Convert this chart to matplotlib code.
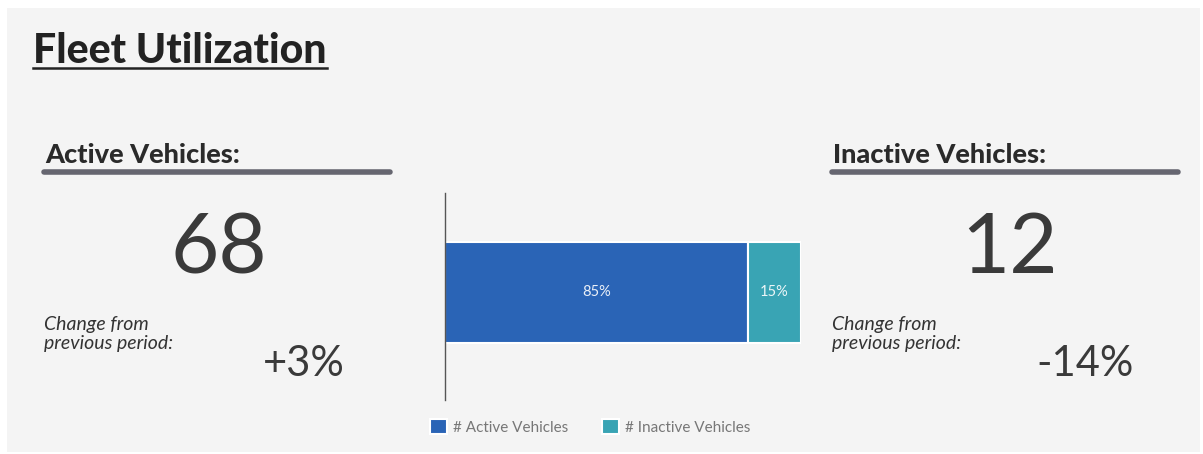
import matplotlib
matplotlib.use("Agg")
import matplotlib.pyplot as plt
from matplotlib.patches import Rectangle
from matplotlib.lines import Line2D

W, H = 1203, 454

# ---- data ----
categories = ["# Active Vehicles", "# Inactive Vehicles"]
counts = [68, 12]
pct_labels = ["85%", "15%"]
changes = ["+3%", "-14%"]
colors = ["#2a64b6", "#39a4b4"]

plt.rcParams['font.family'] = ['Lato', 'DejaVu Sans']

fig = plt.figure(figsize=(W / 100, H / 100), dpi=100, facecolor="white")

def fx(x):
    return x / W

def fy(y):
    return 1 - y / H

# background panel
fig.patches.append(Rectangle((fx(7), fy(452)), fx(1200) - fx(7), fy(8) - fy(452),
                             transform=fig.transFigure, facecolor="#f4f4f4",
                             edgecolor="none", zorder=-5))

# title
fig.text(fx(33), fy(63), "Fleet Utilization", fontsize=29.5, fontweight="black",
         color="#222222", ha="left", va="baseline")
fig.add_artist(Line2D([fx(33), fx(327)], [fy(68), fy(68)], transform=fig.transFigure,
                      color="#222222", linewidth=1.8))

# headers
for x0, x1, text in [(45, 390, "Active Vehicles:"), (833, 1178, "Inactive Vehicles:")]:
    fig.text(fx(x0), fy(163), text, fontsize=19.5, fontweight="black",
             color="#2a2a2a", ha="left", va="baseline")
    fig.add_artist(Line2D([fx(x0 - 1), fx(x1)], [fy(172), fy(172)], transform=fig.transFigure,
                          color="#666670", linewidth=4, solid_capstyle="round"))

# big numbers
for xc, val in [(219, counts[0]), (1010, counts[1])]:
    fig.text(fx(xc), fy(273), str(val), fontsize=60, color="#3a3a3a",
             ha="center", va="baseline")

# change texts
for x0, xr, ch in [(44, 345, changes[0]), (832, 1134, changes[1])]:
    fig.text(fx(x0), fy(330), "Change from", fontsize=14, fontstyle="italic",
             color="#333333", ha="left", va="baseline")
    fig.text(fx(x0), fy(349), "previous period:", fontsize=14, fontstyle="italic",
             color="#333333", ha="left", va="baseline")
    fig.text(fx(xr), fy(376), ch, fontsize=30, color="#3a3a3a",
             ha="right", va="baseline")

# bar chart
ax = fig.add_axes([fx(445), fy(400), fx(801) - fx(445), fy(193) - fy(400)])
ax.set_zorder(2)
ax.patch.set_visible(False)
total = sum(counts)
left = 0
handles = []
for c, lab, col, pl in zip(counts, categories, colors, pct_labels):
    b = ax.barh([0.02], [c], left=left, height=0.49, color=col, edgecolor="white",
                linewidth=1.5, label=lab)
    ax.text(left + c / 2, 0.02, pl, color="white", fontsize=10.5,
            ha="center", va="center", alpha=0.9)
    handles.append(b)
    left += c
ax.set_xlim(0, total)
ax.set_ylim(-0.5, 0.5)
ax.set_xticks([])
ax.set_yticks([])
for s in ["top", "right", "bottom"]:
    ax.spines[s].set_visible(False)
ax.spines["left"].set_color("#555555")
ax.spines["left"].set_linewidth(1)

leg = fig.legend(handles=handles, labels=categories, loc="center",
                 bbox_to_anchor=(fx(590), fy(427)), ncol=2, frameon=False,
                 fontsize=11, handlelength=1.1, handleheight=1.1,
                 handletextpad=0.4, columnspacing=2.2)
for t in leg.get_texts():
    t.set_color("#777777")

fig.savefig("out.png", dpi=100, facecolor="white")
